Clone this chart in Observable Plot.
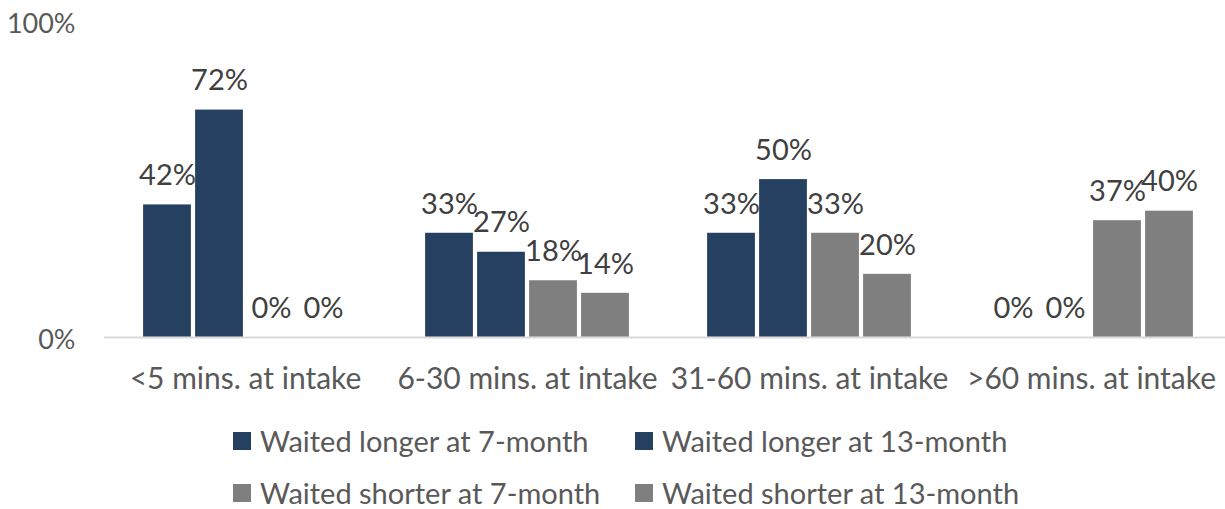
<!DOCTYPE html>
<html>
<head>
<meta charset="utf-8">
<script src="https://cdn.jsdelivr.net/npm/d3@7"></script>
<script src="https://cdn.jsdelivr.net/npm/@observablehq/plot@0.6"></script>
<style>
  html, body { margin: 0; padding: 0; background: #fff; }
  body { width: 1225px; height: 509px; overflow: hidden; font-family: Lato, "Open Sans", sans-serif; }
  #chart svg { display: block; }
  #legend { position: relative; height: 109px; }
  .item { position: absolute; display: flex; align-items: center; font-size: 29px; line-height: 24px; height: 24px; color: #595959; white-space: nowrap; }
  .sw { width: 18px; height: 18px; margin-right: 9px; }
</style>
</head>
<body>
<div id="chart"></div>
<div id="legend"></div>
<script>
const categories = ["<5 mins. at intake", "6-30 mins. at intake", "31-60 mins. at intake", ">60 mins. at intake"];
const series = ["Waited longer at 7-month", "Waited longer at 13-month", "Waited shorter at 7-month", "Waited shorter at 13-month"];
const longer7 = [42, 33, 33, 0];
const longer13 = [72, 27, 50, 0];
const shorter7 = [0, 18, 33, 37];
const shorter13 = [0, 14, 20, 40];
const colors = ["#264061", "#264061", "#7f7f7f", "#7f7f7f"];
const yTicks = [0, 100];

const valuesBySeries = [longer7, longer13, shorter7, shorter13];
const data = [];
categories.forEach((c, i) => {
  series.forEach((s, j) => {
    data.push({category: c, series: s, value: valuesBySeries[j][i]});
  });
});

const chart = Plot.plot({
  width: 1225,
  height: 400,
  marginLeft: 104,
  marginRight: -7,
  marginTop: 21,
  marginBottom: 63,
  style: {fontSize: "30px", fontFamily: "Lato, 'Open Sans', sans-serif", color: "#595959", background: "#fff"},
  fx: {domain: categories, padding: 0, label: null, axis: "bottom", tickSize: 0, tickPadding: 30},
  x: {domain: series, axis: null, paddingInner: 0.084, paddingOuter: 0.73},
  y: {domain: [0, 100], axis: null},
  color: {domain: series, range: colors},
  marks: [
    Plot.axisY(yTicks, {tickFormat: d => d + "%", tickSize: 0, tickPadding: 29, label: null, fontSize: 27, dy: 3}),
    Plot.barY(data, {fx: "category", x: "series", y: "value", fill: "series", stroke: "#ffffff", strokeOpacity: 0.4, strokeWidth: 0.5}),
    Plot.ruleY([0], {stroke: "#d9d9d9", strokeWidth: 2}),
    Plot.text(data, {fx: "category", x: "series", y: "value", text: d => d.value + "%", dy: -29, fill: "#404040", fontSize: 29, lineAnchor: "middle"})
  ]
});
document.getElementById("chart").appendChild(chart);

const legendPos = [[233, 0], [635, 0], [233, 52], [635, 52]];
const legend = document.getElementById("legend");
series.forEach((s, j) => {
  const it = document.createElement("div");
  it.className = "item";
  it.style.left = legendPos[j][0] + "px";
  it.style.top = (legendPos[j][1] + 29) + "px";
  const sw = document.createElement("span");
  sw.className = "sw";
  sw.style.background = colors[j];
  const tx = document.createElement("span");
  tx.textContent = s;
  it.appendChild(sw);
  it.appendChild(tx);
  legend.appendChild(it);
});
</script>
</body>
</html>
